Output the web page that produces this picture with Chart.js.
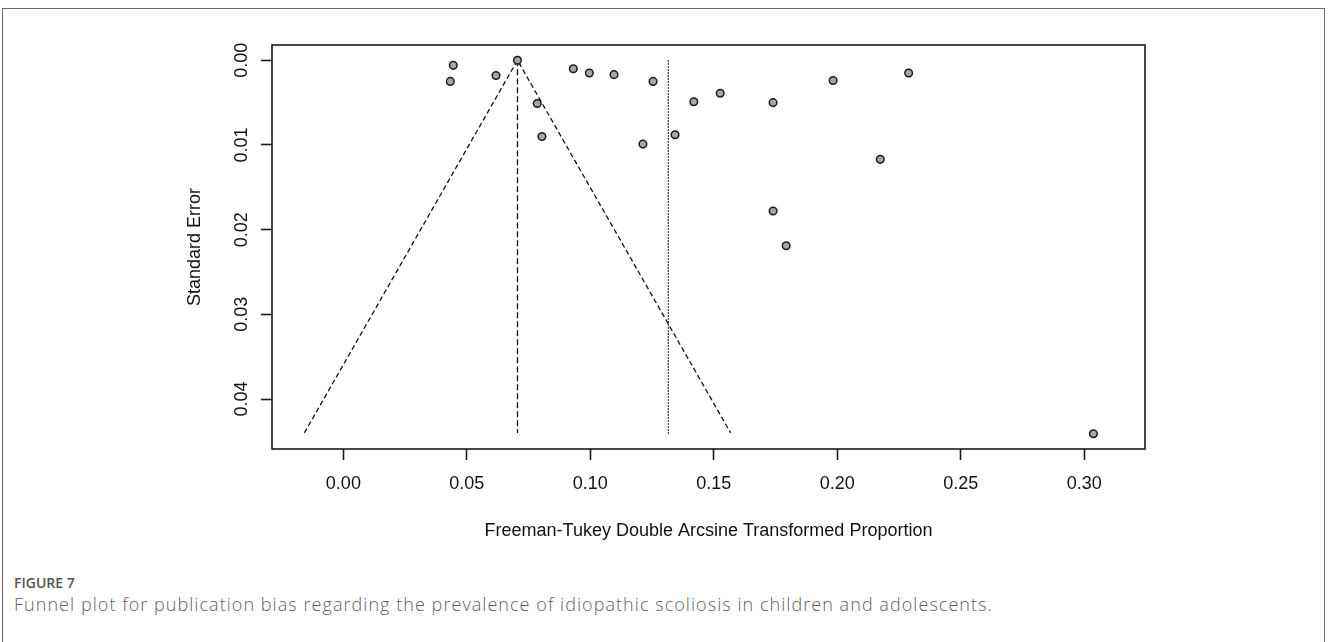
<!DOCTYPE html>
<html>
<head>
<meta charset="utf-8">
<script src="https://cdn.jsdelivr.net/npm/chart.js@4/dist/chart.umd.min.js"></script>
<style>
  html, body { margin: 0; padding: 0; background: #fff; }
  body { width: 1328px; height: 642px; position: relative; overflow: hidden; }
  .frame {
    position: absolute; left: 2px; top: 8px; width: 1323px; height: 700px;
    border: 1.5px solid #6b6b6b; border-bottom: none; box-sizing: border-box;
  }
  #funnel { position: absolute; left: 0; top: 0; }
  .fig-label {
    position: absolute; left: 14px; top: 573px;
    font-family: "Open Sans", sans-serif; font-size: 14px; font-weight: 600;
    color: #555;
  }
  .fig-caption {
    position: absolute; left: 14px; top: 592px; white-space: nowrap;
    font-family: "Open Sans", sans-serif; font-size: 18px; font-weight: 300;
    letter-spacing: 1.05px; color: #5f5f5f;
  }
</style>
</head>
<body>
<div class="frame"></div>
<canvas id="funnel" width="1328" height="560"></canvas>
<div class="fig-label">FIGURE 7</div>
<div class="fig-caption">Funnel plot for publication bias regarding the prevalence of idiopathic scoliosis in children and adolescents.</div>

<script>
// studies: transformed proportion (x) and standard error (y)
const tpValues = [0.0445, 0.0433, 0.0618, 0.0705, 0.0785, 0.0804, 0.0931, 0.0996, 0.1096, 0.1213, 0.1254,
  0.1343, 0.1419, 0.1526, 0.1740, 0.1740, 0.1793, 0.1983, 0.2174, 0.2289, 0.3037];
const seValues = [0.0006, 0.0025, 0.0018, 0.0000, 0.0051, 0.0090, 0.0010, 0.0015, 0.0017, 0.0099, 0.0025,
  0.0088, 0.0049, 0.0039, 0.0050, 0.0178, 0.0219, 0.0024, 0.0117, 0.0015, 0.0441];

// funnel (pseudo 95% limits) and reference lines
const funnelX = [-0.0158, 0.0705, 0.1568];
const funnelSE = [0.0440, 0.0000, 0.0440];
const fixedX = [0.0705, 0.0705];
const fixedSE = [0.0000, 0.0440];
const randomX = [0.1316, 0.1316];
const randomSE = [0.0000, 0.0442];

// axes
const xTickValues = [0, 0.05, 0.10, 0.15, 0.20, 0.25, 0.30];
const xTickLabels = ["0.00", "0.05", "0.10", "0.15", "0.20", "0.25", "0.30"];
const yTickValues = [0, 0.01, 0.02, 0.03, 0.04];
const yTickLabels = ["0.00", "0.01", "0.02", "0.03", "0.04"];
const xTitle = "Freeman-Tukey Double Arcsine Transformed Proportion";
const yTitle = "Standard Error";

const ctx = document.getElementById("funnel");
const FONT = '"Liberation Sans", Arial, sans-serif';

function pairs(xs, ys) {
  return xs.map((x, i) => ({ x: x, y: ys[i] }));
}

// R-style box, rotated y labels and axis titles
const rStyle = {
  id: "rStyle",
  afterDraw(chart) {
    const c = chart.ctx;
    const a = chart.chartArea;
    const ys = chart.scales.y;
    c.save();
    c.strokeStyle = "#1a1a1a";
    c.lineWidth = 1.6;
    c.strokeRect(a.left, a.top, a.right - a.left, a.bottom - a.top);

    c.fillStyle = "#111";
    c.font = "18px " + FONT;
    c.textAlign = "center";
    c.textBaseline = "alphabetic";
    yTickValues.forEach((v, i) => {
      c.save();
      c.translate(246.5, ys.getPixelForValue(v));
      c.rotate(-Math.PI / 2);
      c.fillText(yTickLabels[i], 0, 0);
      c.restore();
    });

    c.save();
    c.translate(200, (a.top + a.bottom) / 2);
    c.rotate(-Math.PI / 2);
    c.fillText(yTitle, 0, 0);
    c.restore();

    c.fillText(xTitle, (a.left + a.right) / 2, 536);
    c.restore();
  }
};

new Chart(ctx, {
  type: "scatter",
  data: {
    datasets: [
      {
        label: "studies",
        data: pairs(tpValues, seValues),
        pointRadius: 3.8,
        pointBorderWidth: 1.5,
        pointBackgroundColor: "#a6a6a6",
        pointBorderColor: "#1a1a1a",
        showLine: false
      },
      {
        label: "funnel",
        data: pairs(funnelX, funnelSE),
        showLine: true,
        borderColor: "#111",
        borderWidth: 1.3,
        borderDash: [5, 3],
        pointRadius: 0
      },
      {
        label: "fixed",
        data: pairs(fixedX, fixedSE),
        showLine: true,
        borderColor: "#111",
        borderWidth: 1.3,
        borderDash: [6, 3],
        pointRadius: 0
      },
      {
        label: "random",
        data: pairs(randomX, randomSE),
        showLine: true,
        borderColor: "#111",
        borderWidth: 1.3,
        borderDash: [1.5, 1.5],
        pointRadius: 0
      }
    ]
  },
  options: {
    responsive: false,
    animation: false,
    layout: { padding: { left: 0, top: 45, right: 183, bottom: 0 } },
    plugins: {
      legend: { display: false },
      tooltip: { enabled: false },
      title: { display: false }
    },
    scales: {
      x: {
        type: "linear",
        min: -0.0289,
        max: 0.3246,
        afterBuildTicks: (scale) => {
          scale.ticks = xTickValues.map((v) => ({ value: v }));
        },
        afterFit: (scale) => {
          scale.height = 111;
        },
        grid: {
          drawOnChartArea: false,
          drawTicks: true,
          tickLength: 11,
          tickWidth: 1.6,
          tickColor: "#1a1a1a"
        },
        border: { display: false },
        ticks: {
          color: "#111",
          font: { family: FONT, size: 18 },
          padding: 13,
          maxRotation: 0,
          minRotation: 0,
          callback: function (val, index) {
            return xTickLabels[index];
          }
        }
      },
      y: {
        type: "linear",
        reverse: true,
        min: -0.0018,
        max: 0.0459,
        afterBuildTicks: (scale) => {
          scale.ticks = yTickValues.map((v) => ({ value: v }));
        },
        afterFit: (scale) => {
          scale.width = 272;
        },
        grid: {
          drawOnChartArea: false,
          drawTicks: true,
          tickLength: 11,
          tickWidth: 1.6,
          tickColor: "#1a1a1a"
        },
        border: { display: false },
        ticks: { display: false }
      }
    }
  },
  plugins: [rStyle]
});
</script>
</body>
</html>
